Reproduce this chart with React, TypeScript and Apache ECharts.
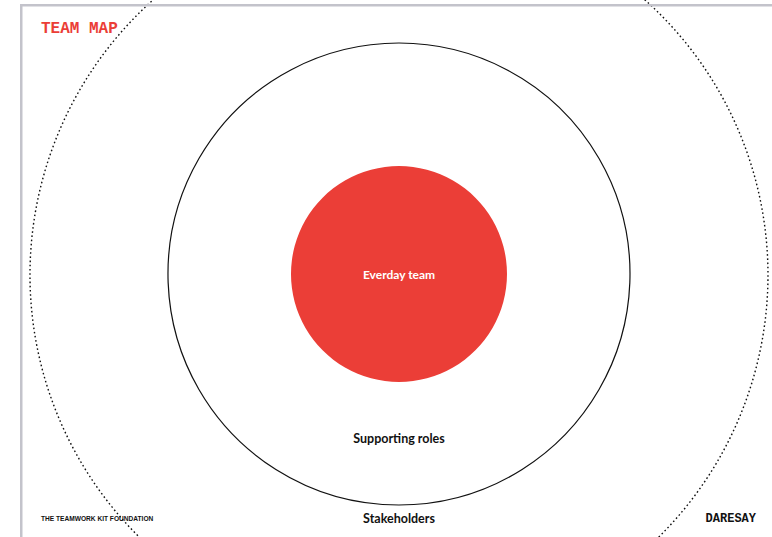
import React, { useEffect, useRef } from "react";
import * as echarts from "echarts";

// Rings of the team map, inner to outer
const ringNames = ["Everday team", "Supporting roles", "Stakeholders"];
const ringValues = [1, 1, 1];
const titleText = "TEAM MAP";
const footerLeft = "THE TEAMWORK KIT FOUNDATION";
const footerRight = "DARESAY";

const RED = "#EB3E37";
const CX = 399;
const CY = 274;

export default function App() {
  const ref = useRef<HTMLDivElement>(null);
  useEffect(() => {
    if (!ref.current) return;
    const chart = echarts.init(ref.current, null, { renderer: "svg" });
    const font = "Lato, 'Noto Sans', sans-serif";
    chart.setOption({
      animation: false,
      backgroundColor: "#ffffff",
      series: [
        {
          type: "pie",
          silent: true,
          z: 1,
          center: [CX, CY + 1],
          radius: [0, 369],
          label: { show: false },
          labelLine: { show: false },
          emphasis: { disabled: true },
          itemStyle: {
            color: "rgba(0,0,0,0)",
            borderColor: "#111",
            borderWidth: 1.4,
            borderType: [1.6, 2.6],
          },
          data: [{ name: ringNames[2], value: ringValues[2] }],
        },
        {
          type: "pie",
          silent: true,
          z: 2,
          center: [CX, CY],
          radius: [0, 231],
          label: { show: false },
          labelLine: { show: false },
          emphasis: { disabled: true },
          itemStyle: {
            color: "#ffffff",
            borderColor: "#111",
            borderWidth: 1.2,
          },
          data: [{ name: ringNames[1], value: ringValues[1] }],
        },
        {
          type: "pie",
          silent: true,
          z: 3,
          center: [CX, CY],
          radius: [0, 108],
          labelLine: { show: false },
          emphasis: { disabled: true },
          itemStyle: { color: RED, borderWidth: 0 },
          label: {
            show: true,
            position: "center",
            color: "#ffffff",
            fontFamily: font,
            fontWeight: "bold",
            fontSize: 12,
            formatter: "{b}",
          },
          data: [{ name: ringNames[0], value: ringValues[0] }],
        },
      ],
      graphic: [
        {
          type: "rect",
          silent: true,
          z: 10,
          shape: { x: 20, y: 4, width: 760, height: 2.5 },
          style: { fill: "#C3C3CB" },
        },
        {
          type: "rect",
          silent: true,
          z: 10,
          shape: { x: 20, y: 4, width: 2.5, height: 540 },
          style: { fill: "#C3C3CB" },
        },
        {
          type: "text",
          z: 10,
          x: 41,
          y: 29,
          style: {
            text: titleText,
            fill: RED,
            font: "bold 16px 'Liberation Mono', 'DejaVu Sans Mono', monospace",
            verticalAlign: "middle",
          },
        },
        {
          type: "text",
          z: 10,
          x: CX,
          y: 438,
          style: {
            text: ringNames[1],
            fill: "#111",
            font: "bold 12.5px " + font,
            align: "center",
            verticalAlign: "middle",
          },
        },
        {
          type: "text",
          z: 10,
          x: CX,
          y: 518,
          style: {
            text: ringNames[2],
            fill: "#111",
            font: "bold 12.5px " + font,
            align: "center",
            verticalAlign: "middle",
          },
        },
        {
          type: "text",
          z: 10,
          x: 41,
          y: 518,
          style: {
            text: footerLeft,
            fill: "#111",
            font: "bold 6.6px 'Liberation Sans', Arial, sans-serif",
            verticalAlign: "middle",
          },
        },
        {
          type: "text",
          z: 10,
          x: 756,
          y: 519,
          style: {
            text: footerRight,
            fill: "#111",
            font: "bold 12px 'Liberation Mono', 'DejaVu Sans Mono', monospace",
            align: "right",
            verticalAlign: "middle",
          },
        },
      ],
    });
    return () => chart.dispose();
  }, []);
  return (
    <div
      ref={ref}
      style={{ position: "fixed", left: 0, top: 0, width: 772, height: 537 }}
    />
  );
}
